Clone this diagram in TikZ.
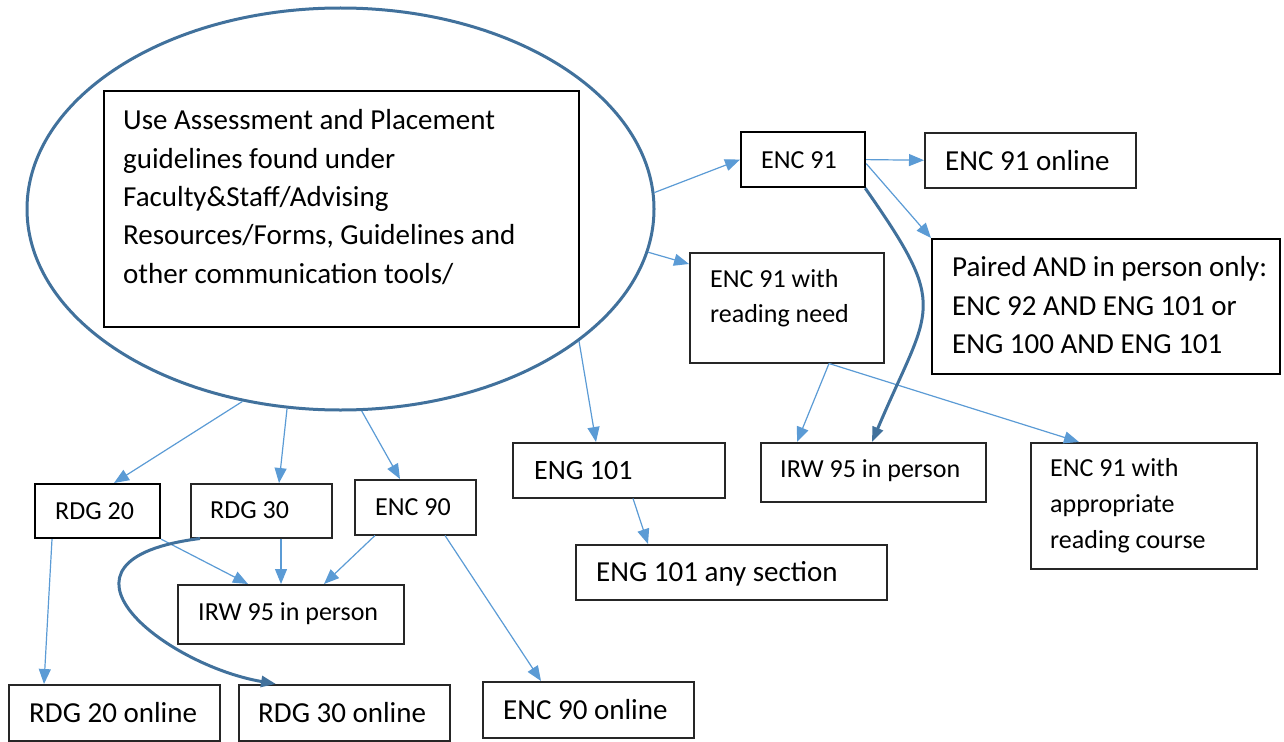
\documentclass[tikz,border=0pt]{standalone}
\usepackage{fontspec}
\setmainfont{Carlito}
\usetikzlibrary{arrows.meta,shapes.geometric}
\definecolor{lblue}{HTML}{5B9BD5}
\definecolor{dblue}{HTML}{41719C}
\begin{document}
\begin{tikzpicture}[x=1pt,y=-1pt,
  thickbox/.style={draw=black,line width=2.2pt,inner sep=0pt,anchor=north west},
  thinbox/.style={draw=black!85,line width=1.5pt,inner sep=0pt,anchor=north west},
  lbl/.style={inner sep=0pt,anchor=base west,align=left},
  fbig/.style={font=\fontsize{29}{38.3}\selectfont},
  fbigb/.style={font=\fontsize{28}{38.3}\selectfont},
  fmid/.style={font=\fontsize{26}{34.7}\selectfont},
  fmidb/.style={font=\fontsize{26}{35.8}\selectfont},
  arr/.style={draw=lblue,line width=1.2pt,-{Triangle[length=15pt,width=12pt]}},
  darr/.style={draw=dblue,line width=3pt,-{Triangle[length=15pt,width=11pt]}},
]
\useasboundingbox (0,0) rectangle (1284,741);

% central ellipse and guideline box
\node[ellipse,draw=dblue,line width=3pt,minimum width=627pt,minimum height=402pt,inner sep=0pt] (ell) at (340.5,209) {};
\node[thickbox,minimum width=475pt,minimum height=236pt] (guide) at (103,90) {};
% multi-line texts: base anchor = baseline of last line
\node[lbl,fbig] (tguide) at (123,283) {Use Assessment and Placement\\guidelines found under\\Faculty\&Staff/Advising\\Resources/Forms, Guidelines and\\other communication tools/};

% right column
\node[thickbox,minimum width=124pt,minimum height=55pt] (enc91) at (740,131) {};
\node[lbl,fmid] (tenc91) at (761,168.3) {ENC 91};
\node[thinbox,minimum width=211pt,minimum height=55pt] (enc91on) at (924,132) {};
\node[lbl,fbig] (tenc91on) at (945,170) {ENC 91 online};
\node[thickbox,minimum width=348pt,minimum height=135pt] (paired) at (931,238) {};
\node[lbl,fbig] (tpaired) at (952,353.3) {Paired AND in person only:\\ENC 92 AND ENG 101 or\\ENG 100 AND ENG 101};
\node[thinbox,minimum width=194pt,minimum height=110pt] (read) at (689,252) {};
\node[lbl,fmid] (tread) at (710,322.3) {ENC 91 with\\reading need};
\node[thinbox,minimum width=225pt,minimum height=59pt] (irwr) at (760,442) {};
\node[lbl,fmid] (tirwr) at (780,477.7) {IRW 95 in person};
\node[thinbox,minimum width=226pt,minimum height=126pt] (appr) at (1030,442) {};
\node[lbl,fmidb] (tappr) at (1050,548.3) {ENC 91 with\\appropriate\\reading course};
\node[thinbox,minimum width=212pt,minimum height=55pt] (eng101) at (512,442) {};
\node[lbl,fbigb] (teng101) at (534,479.3) {ENG 101};
\node[thinbox,minimum width=311pt,minimum height=55pt] (eng101any) at (575,544) {};
\node[lbl,fbig] (teng101any) at (596,581.7) {ENG 101 any section};

% left group
\node[thickbox,minimum width=125pt,minimum height=54pt] (rdg20) at (34,483) {};
\node[lbl,fmid] (trdg20) at (55,519.3) {RDG 20};
\node[thinbox,minimum width=141pt,minimum height=54pt] (rdg30) at (190,483) {};
\node[lbl,fmid] (trdg30) at (210,518.3) {RDG 30};
\node[thinbox,minimum width=121pt,minimum height=55pt] (enc90) at (354,479) {};
\node[lbl,fmid] (tenc90) at (375,515.7) {ENC 90};
\node[thinbox,minimum width=226pt,minimum height=59pt] (irwb) at (177,584) {};
\node[lbl,fmid] (tirwb) at (198,620) {IRW 95 in person};
\node[thinbox,minimum width=211pt,minimum height=56pt] (rdg20on) at (8,684) {};
\node[lbl,fbig] (trdg20on) at (29,722.7) {RDG 20 online};
\node[thinbox,minimum width=211pt,minimum height=56pt] (rdg30on) at (238,684) {};
\node[lbl,fbig] (trdg30on) at (258,722.7) {RDG 30 online};
\node[thinbox,minimum width=211pt,minimum height=56pt] (enc90on) at (482,681) {};
\node[lbl,fbig] (tenc90on) at (503,719) {ENC 90 online};

% connectors
\draw[arr] (ell.3) -- (enc91.west);
\draw[arr] (ell.-8) -- ([yshift=-12pt]read.north west);
\draw[arr] (enc91.east) -- (enc91on.west);
\draw[arr] ([yshift=-4pt]enc91.east) -- (paired.north west);
\draw[arr] ([xshift=140pt]read.south west) -- ([xshift=37pt]irwr.north west);
\draw[arr] ([xshift=140pt]read.south west) -- ([xshift=49pt]appr.north west);
\draw[darr] ([xshift=-1pt]enc91.south east) to[out=-55,in=67,looseness=1.5] ([xshift=112pt]irwr.north west);
\draw[arr] (ell.-29) -- ([xshift=84pt]eng101.north west);
\draw[arr] ([xshift=121pt]eng101.south west) -- ([xshift=73pt]eng101any.north west);
\draw[arr] (ell.243.6) -- ([xshift=80pt]rdg20.north west);
\draw[arr] (ell.255.8) -- ([xshift=89pt]rdg30.north west);
\draw[arr] (ell.-84.5) -- ([xshift=46pt]enc90.north west);
\draw[arr] (rdg20.south east) -- ([xshift=71pt]irwb.north west);
\draw[arr] ([xshift=91pt]rdg30.south west) -- ([xshift=104pt]irwb.north west);
\draw[arr] ([xshift=21pt]enc90.south west) -- ([xshift=147pt]irwb.north west);
\draw[arr] ([xshift=18pt]rdg20.south west) -- ([xshift=36pt]rdg20on.north west);
\draw[arr] ([xshift=91pt]enc90.south west) -- ([xshift=59pt]enc90on.north west);
\draw[darr] ([xshift=10pt]rdg30.south west) .. controls (30,560) and (165,665) .. ([xshift=38pt]rdg30on.north west);
\end{tikzpicture}
\end{document}
